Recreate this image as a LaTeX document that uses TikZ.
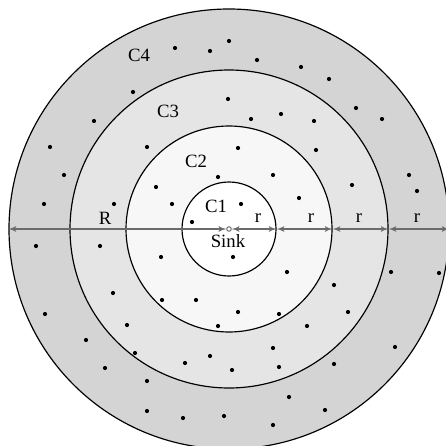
\documentclass[tikz,border=0pt]{standalone}
\usepackage{fontspec}
\setmainfont{Liberation Serif}
\usetikzlibrary{arrows}

\begin{document}
\begin{tikzpicture}[x=0.03cm, y=-0.03cm, >=latex',
    ring/.style={draw, circle, line width=1pt, inner sep=0pt, minimum size=2*#1*0.03cm},
    lbl/.style={inner sep=0pt, font=\fontsize{16}{19}\selectfont},
    dim/.style={<->, draw=black!58, line width=1.3pt}]
    \useasboundingbox (0,0) rectangle (446,446);
    \clip (0,0) rectangle (446,446);
    % Cluster rings
    \node[ring=220, fill=black!17] (c4) at (229,229) {};
    \node[ring=159, fill=black!10] (c3) at (229,229) {};
    \node[ring=103, fill=black!3] (c2) at (229,229) {};
    \node[ring=47, fill=white] (c1) at (229,229) {};
    % Sensor nodes
    \foreach \x/\y in {175/48, 210/51, 229/41, 257/60, 301/67, 329/79, 133/92, 228/99,
        356/108, 382/119, 94/121, 251/119, 281/114, 314/121, 50/147, 147/147, 238/148,
        316/150, 64/175, 273/175, 218/177, 409/175, 156/187, 352/185, 417/191, 44/204,
        114/204, 172/204, 241/204, 299/198, 192/222, 36/246, 100/246, 161/257, 233/257,
        391/272, 439/273, 287/272, 334/285, 113/293, 162/300, 196/300, 238/312, 279/314,
        348/312, 45/314, 127/325, 218/326, 307/326, 86/340, 395/347, 135/353, 210/356,
        273/348, 185/363, 105/368, 232/370, 279/367, 334/364, 147/381, 289/397, 147/411,
        183/418, 224/416, 325/410, 273/425}
        \fill (\x,\y) circle[radius=2.1];
    % Sink
    \node[draw=black!58, circle, fill=white, line width=0.8pt, inner sep=0pt, minimum size=4.5*0.03cm] (sink) at (229,229) {};
    % Radius arrows
    \draw[dim] (c4.west) -- (sink);
    \draw[dim] (sink) -- (c1.east);
    \draw[dim] (c1.east) -- (c2.east);
    \draw[dim] (c2.east) -- (c3.east);
    \draw[dim] (c3.east) -- (c4.east);
    % Labels
    \node[lbl] (lc4) at (139,55) {C4};
    \node[lbl] (lc3) at (168,111) {C3};
    \node[lbl] (lc2) at (196,161) {C2};
    \node[lbl] (lc1) at (216,206) {C1};
    \node[lbl] (lsink) at (228,241) {Sink};
    \node[lbl] (lR) at (105,218) {R};
    \node[lbl] (lr1) at (258,218) {r};
    \node[lbl] (lr2) at (311,218) {r};
    \node[lbl] (lr3) at (359,218) {r};
    \node[lbl] (lr4) at (417,218) {r};
\end{tikzpicture}
\end{document}
